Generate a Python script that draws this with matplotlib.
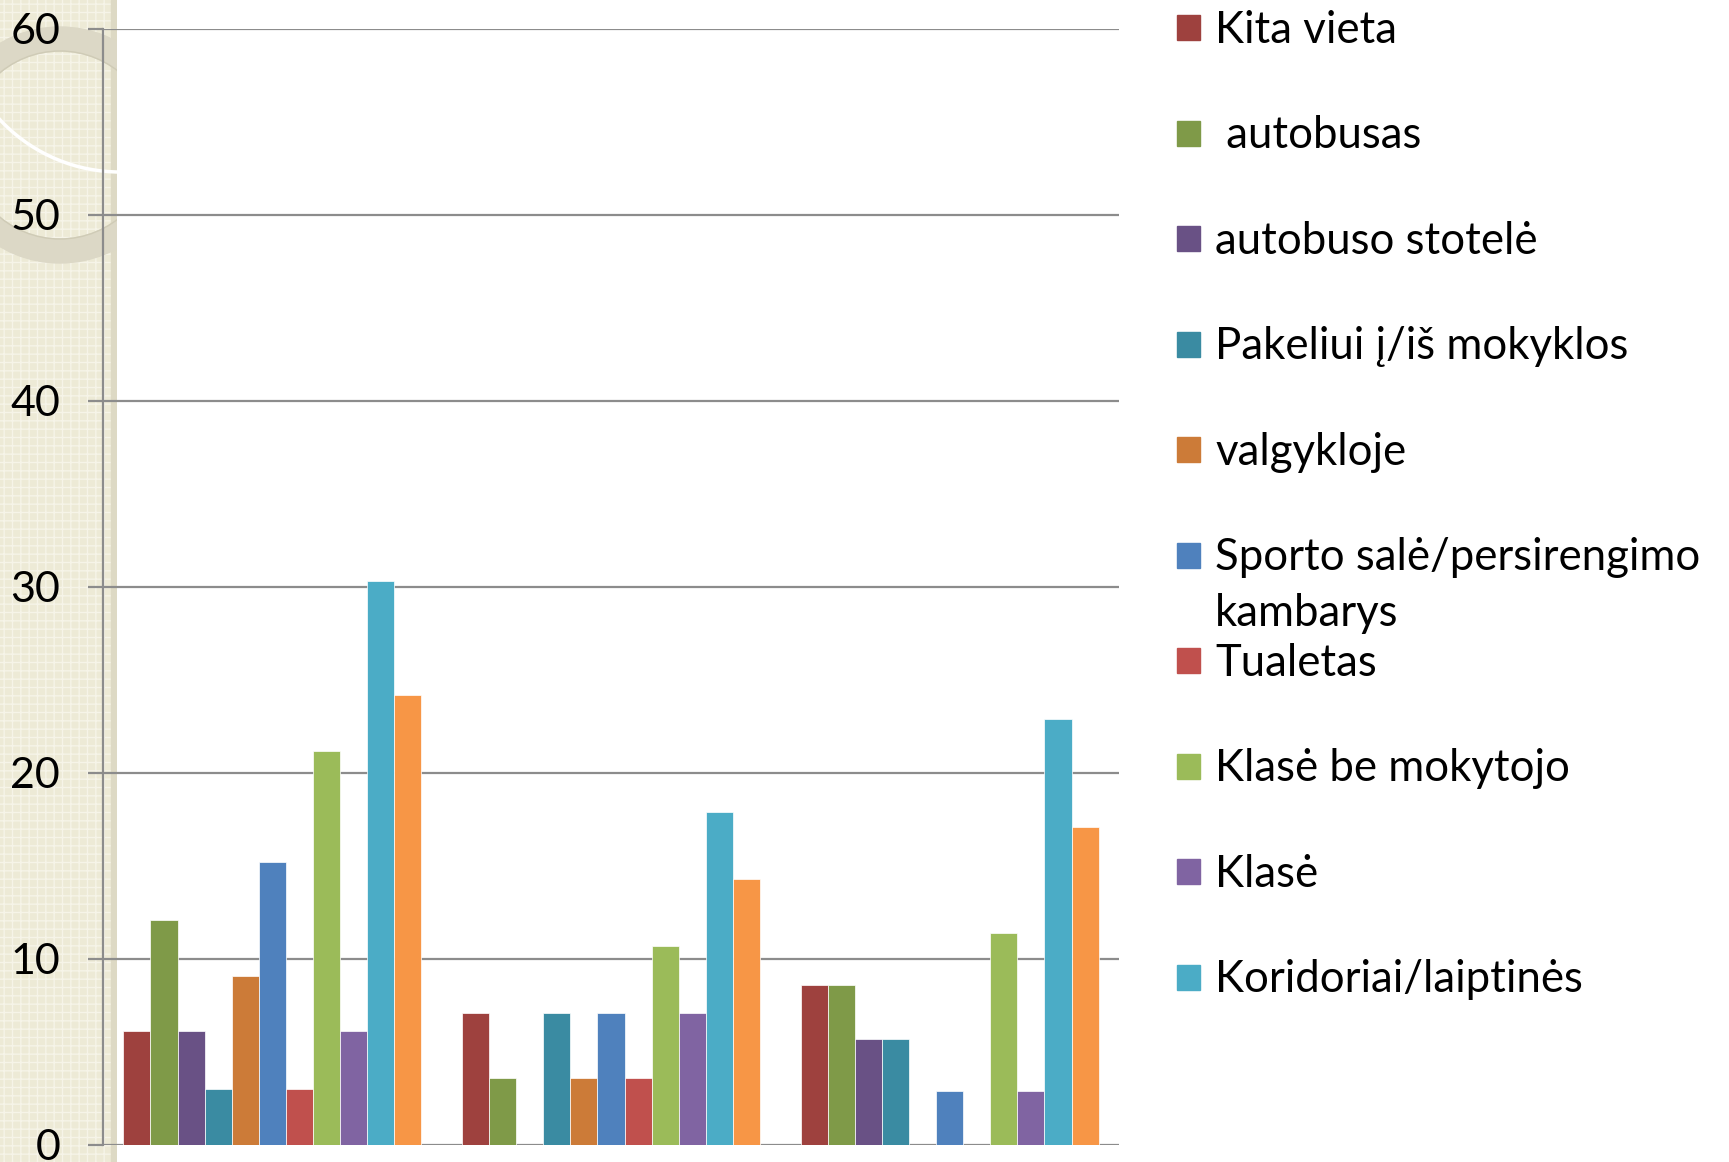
import numpy as np
import matplotlib.pyplot as plt
from matplotlib.patches import Rectangle, Wedge, Circle

# data (three unlabeled groups, eleven places)
groups = ["1", "2", "3"]
series = ["Kita vieta", " autobusas", "autobuso stotelė", "Pakeliui į/iš mokyklos",
          "valgykloje", "Sporto salė/persirengimo\nkambarys", "Tualetas",
          "Klasė be mokytojo", "Klasė", "Koridoriai/laiptinės", ""]
colors = ["#9E413E", "#7F9A48", "#695185", "#3A8BA2", "#CC7B38", "#4F81BD",
          "#C0504D", "#9BBB59", "#8064A2", "#4BACC6", "#F79646"]
values = [
    [6.1, 7.1, 8.6],    # Kita vieta
    [12.1, 3.6, 8.6],   # autobusas
    [6.1, 0.0, 5.7],    # autobuso stotele
    [3.0, 7.1, 5.7],    # Pakeliui
    [9.1, 3.6, 0.0],    # valgykloje
    [15.2, 7.1, 2.9],   # Sporto sale
    [3.0, 3.6, 0.0],    # Tualetas
    [21.2, 10.7, 11.4], # Klase be mokytojo
    [6.1, 7.1, 2.9],    # Klase
    [30.3, 17.9, 22.9], # Koridoriai
    [24.2, 14.3, 17.1], # (no legend entry)
]
yticks = [0, 10, 20, 30, 40, 50, 60]

W, H = 1729, 1162
plt.rcParams['font.family'] = ['Lato', 'DejaVu Sans']
fig = plt.figure(figsize=(W / 100, H / 100), dpi=100)

# beige strip on the left with the decorative ring
strip_w = 117
bg = fig.add_axes([0, 0, strip_w / W, 1], zorder=0)
bg.set_xlim(0, strip_w)
bg.set_ylim(H, 0)
bg.axis('off')
bg.add_patch(Rectangle((0, 0), strip_w, H, color="#EDEAD6", zorder=0))
bg.add_patch(Rectangle((0, 0), strip_w, H, facecolor="none", edgecolor="#F6F4E8",
                       hatch="++", linewidth=0, zorder=1))
bg.add_patch(Rectangle((strip_w - 6, 0), 6, H, color="#DDD9C4", zorder=2))
bg.add_patch(Wedge((60, 145), 118, 0, 360, width=24, color="#DCD8C6", zorder=3))
bg.add_patch(Circle((60, 145), 94, fill=False, edgecolor="#CFCBB6", lw=1, zorder=3))
bg.add_patch(Circle((120, 8), 164, fill=False, edgecolor="white", lw=2.5, zorder=4))

# main plot area
left, right, y0, y60 = 103, 1119, 1145, 28.5
ax = fig.add_axes([left / W, 1 - y0 / H, (right - left) / W, (y0 - y60) / H], zorder=2)
ax.patch.set_alpha(0)

n = len(series)
w = 1 / (n + 1.5)
x = np.arange(len(groups))
for j in range(n):
    ax.bar(x + (j - (n - 1) / 2) * w, values[j], width=w, color=colors[j],
           edgecolor="#FFFFFF", linewidth=0.5, zorder=3)

ax.set_xlim(-0.5, len(groups) - 0.5)
ax.set_ylim(0, 60)
ax.set_yticks(yticks)
ax.set_yticklabels([str(t) for t in yticks], fontsize=31)
ax.set_xticks([])
ax.yaxis.grid(True, color="#8C8C8C", linewidth=1.6, zorder=1)
ax.set_axisbelow(True)
for s in ["top", "right", "bottom"]:
    ax.spines[s].set_visible(False)
ax.spines["left"].set_color("#8C8C8C")
ax.spines["left"].set_linewidth(1.6)
ax.tick_params(axis="y", direction="out", length=10.8, width=1.6, color="#8C8C8C",
               pad=20, labelcolor="black")

# legend drawn by hand on the right
for i, name in enumerate(series[:10]):
    yc = 27.6 + 105.5 * i
    fig.patches.append(Rectangle((1177 / W, 1 - (yc + 12.5) / H), 23 / W, 25 / H,
                                 transform=fig.transFigure, color=colors[i], figure=fig))
    for k, line in enumerate(name.split("\n")):
        fig.text(1215 / W, 1 - (yc + 15 + 56 * k) / H, line, fontsize=31.5,
                 va="baseline", ha="left", color="black")

fig.savefig("out.png", dpi=100)
